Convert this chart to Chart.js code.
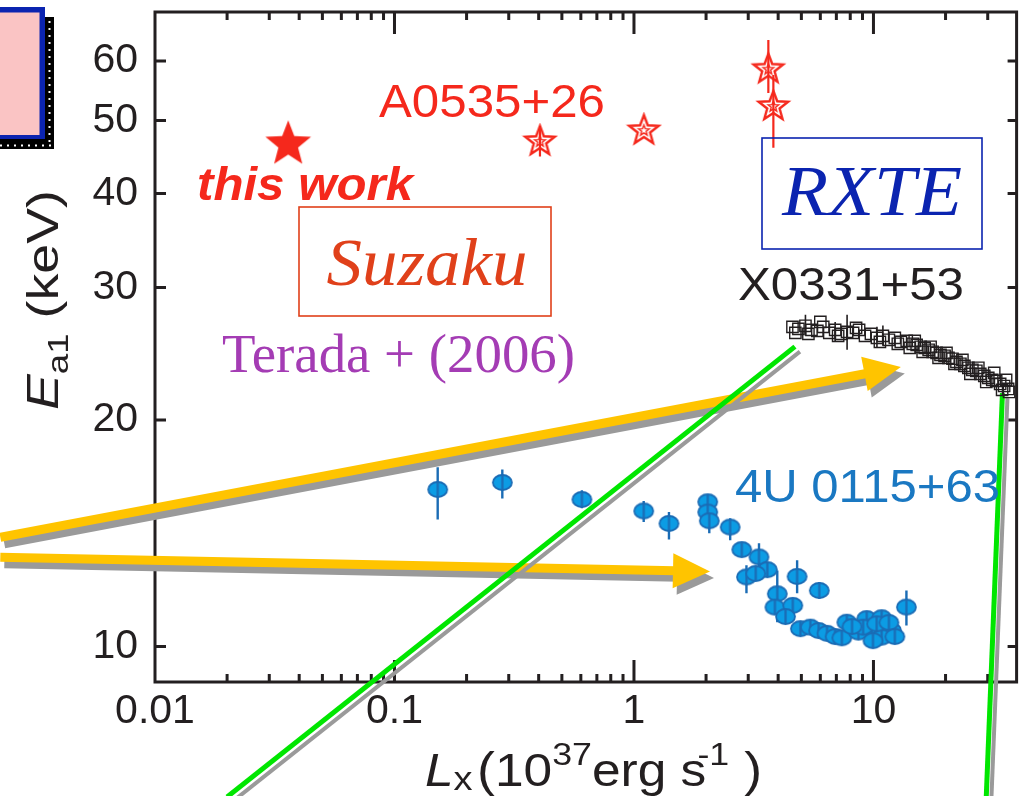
<!DOCTYPE html>
<html>
<head>
<meta charset="utf-8">
<script src="https://cdn.jsdelivr.net/npm/chart.js@4.4.1/dist/chart.umd.min.js"></script>
<style>
  html, body { margin: 0; padding: 0; background: #ffffff; }
  #wrap { position: relative; width: 1026px; height: 796px; }
</style>
</head>
<body>
<div id="wrap"><canvas id="chart"></canvas></div>
<script>
// ---------------- axis ticks ----------------
const xTickValues = [0.01, 0.1, 1, 10];
const xTickLabels = ['0.01', '0.1', '1', '10'];
const yTickValues = [10, 20, 30, 40, 50, 60];
const yTickLabels = ['10', '20', '30', '40', '50', '60'];

// ---------------- data: Lx (1e37 erg/s) vs Ea1 (keV) ----------------
// A0535+26, Suzaku (this work)
const thisWorkL = [0.036];
const thisWorkE = [46.5];

// A0535+26, RXTE
const a0535L  = [0.405, 1.10, 3.64, 3.82];
const a0535E  = [46.9, 48.5, 58.5, 52.2];
const a0535Lo = [44.8, null, 54.4, 46.0];
const a0535Hi = [49.1, null, 64.0, 57.5];

// X0331+53, RXTE
const x0331L = [4.59, 4.72, 4.86, 5.20, 5.35, 5.51, 5.83, 6.00, 6.17, 6.54, 6.92, 7.12, 7.33, 7.76,
                8.22, 8.46, 8.71, 9.22, 9.76, 10.34, 10.64, 10.95, 11.60, 12.28, 12.64, 13.01, 13.77,
                14.18, 14.59, 14.87, 15.15, 15.74, 16.05, 16.36, 17.00, 17.32, 17.66, 18.34, 18.70,
                19.05, 19.81, 20.18, 20.57, 21.38, 21.79, 22.21, 23.07, 23.52, 23.97, 24.91, 25.39,
                25.88, 26.89, 27.41, 27.93, 29.02, 29.58, 30.16, 31.33, 31.93, 32.54, 33.81, 34.45,
                35.13, 35.80, 36.50, 36.85];
const x0331E = [26.59, 26.11, 26.43, 26.68, 26.03, 26.35, 26.27, 27.00, 26.59, 26.11, 26.35, 25.87, 26.03, 26.19,
                26.11, 26.51, 26.35, 25.87, 26.03, 25.71, 25.40, 25.87, 25.56, 25.71, 25.25, 25.40, 25.48,
                24.94, 25.25, 25.48, 25.17, 25.02, 24.64, 24.94, 24.79, 25.02, 24.64, 24.56, 24.19,
                24.41, 24.34, 24.56, 24.19, 24.12, 23.75, 23.89, 23.75, 24.04, 23.60, 23.46, 23.03,
                23.32, 23.25, 23.46, 23.03, 22.89, 22.47, 22.75, 22.61, 23.10, 22.54, 22.33, 21.93,
                22.19, 22.61, 21.99, 21.79];
const x0331Lo = [null, null, null, 25.90, null, null, null, null, null, null, 25.40, null, null, 24.79,
                 null, null, null, null, null, 25.00, null, 25.10, null, null, null, null, null,
                 null, null, null, null, null, null, null, null, null, null, null, null,
                 null, null, null, null, null, null, null, null, null, null, null, null,
                 null, null, null, null, null, null, null, null, null, null, null, null,
                 null, null, null, null];
const x0331Hi = [null, null, null, 27.60, null, null, null, null, null, null, 27.00, null, null, 27.59,
                 null, null, null, null, null, 26.60, null, 26.70, null, null, null, null, null,
                 null, null, null, null, null, null, null, null, null, null, null, null,
                 null, null, null, null, null, null, null, null, null, null, null, null,
                 null, null, null, null, null, null, null, null, null, null, null, null,
                 null, null, null, null];

// 4U 0115+63, RXTE
const u0115L = [0.1515, 0.282, 0.606, 1.098, 1.40, 2.032, 2.032, 2.063, 2.522, 2.82, 3.327, 3.604,
                2.949, 3.223, 4.80, 3.966, 3.877, 4.603, 4.295, 5.94, 4.955, 5.45, 5.90, 6.40, 6.92,
                7.38, 7.74, 8.65, 9.37, 9.83, 10.82, 11.16, 11.90, 10.82, 13.73, 9.05, 10.31, 8.14,
                11.60, 12.28, 9.95];
const u0115E = [16.17, 16.52, 15.68, 15.14, 14.57, 15.57, 15.09, 14.69, 14.41, 13.45, 13.15, 12.65,
                12.37, 12.50, 12.39, 11.75, 11.28, 11.34, 10.96, 11.87, 10.56, 10.61, 10.50, 10.41, 10.31,
                10.27, 10.77, 10.45, 10.89, 10.61, 10.92, 10.50, 10.50, 10.29, 11.28, 10.61, 10.72, 10.63,
                10.76, 10.31, 10.18];
const u0115Lo = [14.75, 15.73, 15.26, 14.64, 13.87, null, null, 14.14, 13.84, null, 12.24, null,
                 11.77, null, 11.77, 10.77, null, null, null, 11.57, null, null, null, null, null,
                 null, null, null, null, null, null, null, null, null, 10.66, null, null, null,
                 null, null, null];
const u0115Hi = [17.30, 17.19, 16.13, 15.61, 15.09, null, null, 15.17, 14.81, null, 13.72, null,
                 12.82, null, 13.02, 12.62, null, null, null, 12.18, null, null, null, null, null,
                 null, null, null, null, null, null, null, null, null, 11.87, null, null, null,
                 null, null, null];

// callout lines and arrows, in (Lx, Ea1) coordinates
const greenLineA = [[4.70, 25.03], [0.02, 6.31]];
const greenLineB = [[34.56, 21.71], [29.58, 6.31]];
const arrowUpper = [[0.00226, 13.97], [13.01, 23.52]];
const arrowLower = [[0.00226, 13.14], [2.077, 12.58]];

// ---------------- styles ----------------
const AXIS = '#231f20';
const SANS = '"Liberation Sans", Arial, Helvetica, sans-serif';
const SERIF = '"Liberation Serif", "Times New Roman", Times, serif';
const RED = '#f5281c';
const BLUE_DOT = '#0c9ce4';
const BLUE_EDGE = '#1b6cb5';

function pts(xs, ys) { return xs.map((x, i) => ({ x: x, y: ys[i] })); }

function starPath(g, cx, cy, R, r) {
  g.beginPath();
  for (let k = 0; k < 10; k++) {
    const rad = (k % 2 === 0) ? R : r;
    const a = -Math.PI / 2 + k * Math.PI / 5;
    const px = cx + rad * Math.cos(a), py = cy + rad * Math.sin(a);
    if (k === 0) g.moveTo(px, py); else g.lineTo(px, py);
  }
  g.closePath();
}
function solidStar(R, color) {
  const s = Math.ceil(2 * R + 4);
  const c = document.createElement('canvas'); c.width = s; c.height = s;
  const g = c.getContext('2d');
  starPath(g, s / 2, s / 2, R, R * 0.43);
  g.fillStyle = color; g.fill();
  return c;
}
function hollowStar(R, color) {
  const s = Math.ceil(2 * R + 6);
  const c = document.createElement('canvas'); c.width = s; c.height = s;
  const g = c.getContext('2d');
  g.strokeStyle = color; g.lineJoin = 'miter';
  starPath(g, s / 2, s / 2, R, R * 0.42); g.lineWidth = 2.4; g.stroke();
  starPath(g, s / 2, s / 2, R * 0.36, R * 0.36 * 0.42); g.lineWidth = 1.4; g.stroke();
  return c;
}
function ovalMark(w, h) {
  const c = document.createElement('canvas'); c.width = w + 4; c.height = h + 4;
  const g = c.getContext('2d');
  const cx = c.width / 2, cy = c.height / 2;
  g.beginPath(); g.ellipse(cx, cy, w / 2, h / 2, 0, 0, Math.PI * 2);
  g.fillStyle = BLUE_DOT; g.fill();
  g.lineWidth = 1.8; g.strokeStyle = BLUE_EDGE; g.stroke();
  g.beginPath(); g.moveTo(cx, cy - h / 2); g.lineTo(cx, cy + h / 2);
  g.lineWidth = 2.2; g.stroke();
  return c;
}

// ---------------- plugins ----------------
function textRun(ctx, str, x, y, font, color, width, align) {
  ctx.save();
  ctx.font = font; ctx.fillStyle = color; ctx.textBaseline = 'alphabetic'; ctx.textAlign = 'left';
  const m = ctx.measureText(str).width;
  const sx = width ? width / m : 1;
  const w = m * sx;
  const x0 = align === 'center' ? x - w / 2 : x;
  ctx.translate(x0, y); ctx.scale(sx, 1);
  ctx.fillText(str, 0, 0);
  ctx.restore();
}
// sequence of runs (sub/superscripts) squeezed to a given length
function richText(ctx, runs, length) {
  let total = 0;
  runs.forEach(r => { ctx.font = r.font; r.w = ctx.measureText(r.t).width; total += r.w + (r.dx || 0); });
  const sx = length / total;
  ctx.save(); ctx.scale(sx, 1);
  let x = 0;
  runs.forEach(r => {
    ctx.font = r.font; ctx.fillStyle = AXIS;
    x += (r.dx || 0);
    ctx.fillText(r.t, x, r.dy || 0);
    x += r.w;
  });
  ctx.restore();
}

const framePlugin = {
  id: 'frame',
  beforeDatasetsDraw(chart) {
    const { ctx, chartArea: a, scales: { x, y } } = chart;
    ctx.save();
    ctx.strokeStyle = AXIS; ctx.lineWidth = 3; ctx.lineCap = 'butt';
    ctx.strokeRect(a.left, a.top, a.right - a.left, a.bottom - a.top);
    ctx.beginPath();
    // x ticks on bottom and top, pointing inward
    for (let d = -2; d <= 1; d++) {
      for (let m = 1; m <= 9; m++) {
        const v = m * Math.pow(10, d);
        if (v <= 0.0100001 || v > 40) continue;
        const px = x.getPixelForValue(v);
        if (px >= a.right - 1) continue;
        const len = (m === 1) ? 22 : 8;
        ctx.moveTo(px, a.bottom); ctx.lineTo(px, a.bottom - len);
        ctx.moveTo(px, a.top); ctx.lineTo(px, a.top + len);
      }
    }
    // y ticks on left and right
    yTickValues.forEach(v => {
      const py = y.getPixelForValue(v);
      ctx.moveTo(a.left, py); ctx.lineTo(a.left + 11, py);
      ctx.moveTo(a.right, py); ctx.lineTo(a.right - 9, py);
    });
    ctx.stroke();
    ctx.restore();
  }
};

const calloutPlugin = {
  id: 'callouts',
  beforeDatasetsDraw(chart) {
    const { ctx, scales: { x, y } } = chart;
    const P = p => ({ x: x.getPixelForValue(p[0]), y: y.getPixelForValue(p[1]) });
    ctx.save();
    function arrow(seg, color, off) {
      const p0 = P(seg[0]), p1 = P(seg[1]);
      p0.x += off[0]; p0.y += off[1]; p1.x += off[0]; p1.y += off[1];
      const dx = p1.x - p0.x, dy = p1.y - p0.y, L = Math.hypot(dx, dy), ux = dx / L, uy = dy / L;
      const head = 37, half = 17.5;
      const bx = p1.x - ux * head, by = p1.y - uy * head;
      ctx.strokeStyle = color; ctx.lineWidth = 9; ctx.lineCap = 'butt';
      ctx.beginPath(); ctx.moveTo(p0.x, p0.y); ctx.lineTo(bx + ux * 2, by + uy * 2); ctx.stroke();
      ctx.fillStyle = color;
      ctx.beginPath(); ctx.moveTo(p1.x, p1.y);
      ctx.lineTo(bx - uy * half, by + ux * half);
      ctx.lineTo(bx + uy * half, by - ux * half);
      ctx.closePath(); ctx.fill();
    }
    function greenLine(seg, color, lw, off) {
      const p0 = P(seg[0]), p1 = P(seg[1]);
      ctx.strokeStyle = color; ctx.lineWidth = lw; ctx.lineCap = 'butt';
      ctx.beginPath(); ctx.moveTo(p0.x + off[0], p0.y + off[1]); ctx.lineTo(p1.x + off[0], p1.y + off[1]); ctx.stroke();
    }
    [arrowUpper, arrowLower].forEach(s => arrow(s, '#9a9a9a', [4, 6.5]));
    [arrowUpper, arrowLower].forEach(s => arrow(s, '#ffc400', [0, 0]));
    [greenLineA, greenLineB].forEach(s => greenLine(s, '#9a9a9a', 4, [5, 5]));
    [greenLineA, greenLineB].forEach(s => greenLine(s, '#00e600', 5, [0, 0]));
    ctx.restore();
  }
};

const errorBarPlugin = {
  id: 'errorBars',
  beforeDatasetsDraw(chart) {
    const { ctx, scales: { x, y } } = chart;
    const sets = [
      { xs: x0331L, lo: x0331Lo, hi: x0331Hi, color: AXIS, lw: 1.6 },
      { xs: u0115L, lo: u0115Lo, hi: u0115Hi, color: BLUE_EDGE, lw: 2.4 },
      { xs: a0535L, lo: a0535Lo, hi: a0535Hi, color: RED, lw: 2.2 }
    ];
    ctx.save();
    sets.forEach(s => {
      ctx.strokeStyle = s.color; ctx.lineWidth = s.lw;
      ctx.beginPath();
      s.xs.forEach((xv, i) => {
        if (s.lo[i] == null) return;
        const px = x.getPixelForValue(xv);
        ctx.moveTo(px, y.getPixelForValue(s.lo[i]));
        ctx.lineTo(px, y.getPixelForValue(s.hi[i]));
      });
      ctx.stroke();
    });
    ctx.restore();
  }
};

const labelPlugin = {
  id: 'labels',
  afterDraw(chart) {
    const { ctx } = chart;
    ctx.save();
    // corner panel with blue frame and dotted shadow
    ctx.fillStyle = '#000000'; ctx.fillRect(-10, 17, 64, 132);
    ctx.fillStyle = '#ffffff';
    for (let yy = 21; yy < 146; yy += 7) ctx.fillRect(48.5, yy, 2, 2);
    for (let xx = 0; xx < 50; xx += 7) ctx.fillRect(xx, 144.5, 2, 2);
    ctx.fillStyle = '#0b24b0'; ctx.fillRect(-10, 7, 55, 132);
    ctx.fillStyle = '#fac4c4'; ctx.fillRect(-10, 12.5, 49.5, 122.5);

    // instrument boxes
    ctx.lineWidth = 1.6;
    ctx.strokeStyle = '#e0401a'; ctx.strokeRect(299, 207, 252, 109);
    ctx.strokeStyle = '#0b24b0'; ctx.strokeRect(762, 138, 220, 111);

    textRun(ctx, 'A0535+26', 379, 117, '47px ' + SANS, RED, 226);
    textRun(ctx, 'this work', 197, 200, 'italic bold 47px ' + SANS, RED, 216);
    textRun(ctx, 'Suzaku', 427, 285, 'italic 68px ' + SERIF, '#e0401a', 201, 'center');
    textRun(ctx, 'RXTE', 872, 215, 'italic 72px ' + SERIF, '#0b24b0', 180, 'center');
    textRun(ctx, 'X0331+53', 738, 300, '47px ' + SANS, AXIS, 226);
    textRun(ctx, 'Terada + (2006)', 222, 372, '54px ' + SERIF, '#a43cb4', 353);
    textRun(ctx, '4U 0115+63', 735, 502, '47px ' + SANS, '#1a78c2', 265);

    // axis titles
    ctx.save();
    ctx.translate(425, 786);
    richText(ctx, [
      { t: 'L', font: 'italic 46px ' + SANS },
      { t: 'x', font: '34px ' + SANS, dy: 4 },
      { t: '(', font: '48px ' + SANS, dx: 4 },
      { t: '10', font: '46px ' + SANS },
      { t: '37', font: '32px ' + SANS, dy: -21 },
      { t: 'erg s', font: '46px ' + SANS },
      { t: '-1', font: '32px ' + SANS, dy: -21, dx: -8 },
      { t: ' )', font: '48px ' + SANS }
    ], 337);
    ctx.restore();

    ctx.save();
    ctx.translate(58, 410);
    ctx.rotate(-Math.PI / 2);
    richText(ctx, [
      { t: 'E', font: 'italic 44px ' + SANS },
      { t: 'a1', font: '30px ' + SANS, dy: 10 },
      { t: ' (keV)', font: '44px ' + SANS }
    ], 220);
    ctx.restore();

    ctx.restore();
  }
};

// ---------------- chart ----------------
new Chart(document.getElementById('chart'), {
  type: 'scatter',
  data: {
    datasets: [
      { label: 'X0331+53', data: pts(x0331L, x0331E), pointStyle: 'rect', pointRadius: 8,
        borderColor: AXIS, borderWidth: 1.4, backgroundColor: 'rgba(0,0,0,0)' },
      { label: '4U 0115+63', data: pts(u0115L, u0115E), pointStyle: ovalMark(19, 15) },
      { label: 'A0535+26 RXTE', data: pts(a0535L, a0535E), pointStyle: hollowStar(15.5, RED) },
      { label: 'A0535+26 Suzaku', data: pts(thisWorkL, thisWorkE), pointStyle: solidStar(24, RED) }
    ]
  },
  options: {
    responsive: true,
    maintainAspectRatio: false,
    animation: false,
    events: [],
    layout: { padding: { top: 12, right: 3, left: 0, bottom: 0 } },
    plugins: { legend: { display: false }, tooltip: { enabled: false } },
    scales: {
      x: {
        type: 'logarithmic', position: 'bottom', min: 0.01, max: 39.6,
        grid: { display: false, drawTicks: false }, border: { display: false },
        ticks: {
          autoSkip: false, maxRotation: 0, padding: 5, color: AXIS,
          font: { family: SANS, size: 41 },
          callback: (v, i) => xTickLabels[i]
        },
        afterBuildTicks: s => { s.ticks = xTickValues.map(v => ({ value: v })); },
        afterFit: s => { s.height = 114; s.paddingLeft = 0; s.paddingRight = 0; }
      },
      y: {
        type: 'logarithmic', position: 'left', min: 8.97, max: 69.7,
        grid: { display: false, drawTicks: false }, border: { display: false },
        ticks: {
          autoSkip: false, padding: 17, color: AXIS,
          font: { family: SANS, size: 41 },
          callback: (v, i) => yTickLabels[i]
        },
        afterBuildTicks: s => { s.ticks = yTickValues.map(v => ({ value: v })); },
        afterFit: s => { s.width = 155; s.paddingTop = 0; s.paddingBottom = 0; }
      }
    }
  },
  plugins: [framePlugin, calloutPlugin, errorBarPlugin, labelPlugin]
});
</script>
</body>
</html>
